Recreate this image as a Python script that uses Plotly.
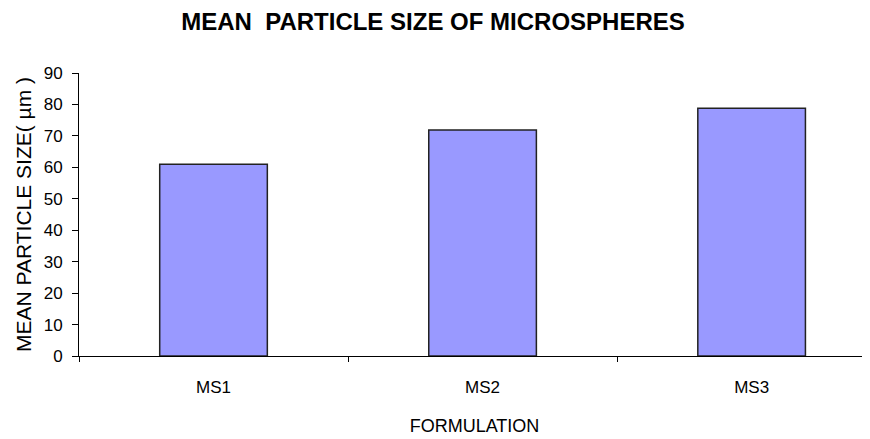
import plotly.graph_objects as go

categories = ["MS1", "MS2", "MS3"]
mean_size = [61.0, 71.9, 78.8]
y_ticks = [0, 10, 20, 30, 40, 50, 60, 70, 80, 90]

fnt = "Liberation Sans, Arial, sans-serif"

fig = go.Figure(
    go.Bar(
        x=categories,
        y=mean_size,
        marker=dict(color="#9999FF", line=dict(color="#222222", width=1.5)),
    )
)

# page body has an 8px margin, so the figure is sized/offset to compensate
fig.update_layout(
    width=862,
    height=431,
    margin=dict(l=71, r=0, t=65, b=83, autoexpand=False),
    paper_bgcolor="white",
    plot_bgcolor="white",
    bargap=0.6,
    showlegend=False,
    title=dict(
        text="<b>MEAN  PARTICLE SIZE OF MICROSPHERES</b>",
        x=0.493, xanchor="center", y=0.9675, yanchor="middle",
        font=dict(family=fnt, size=24, color="black"),
        automargin=False,
    ),
    font=dict(family=fnt, size=17, color="black"),
)

fig.update_xaxes(
    range=[-0.5, 2.44],
    automargin=False,
    showline=True, linecolor="black", linewidth=1,
    ticks="outside", tickson="boundaries", ticklen=5, tickcolor="black",
    tickfont=dict(family=fnt, size=17, color="black"),
    ticklabelstandoff=16,
    showgrid=False,
    title=dict(text="FORMULATION", font=dict(family=fnt, size=18), standoff=22),
)

fig.update_yaxes(
    range=[0, 90],
    automargin=False,
    tickvals=y_ticks,
    showline=True, linecolor="black", linewidth=1,
    ticks="outside", ticklen=6, tickcolor="black",
    tickfont=dict(family=fnt, size=17, color="black"),
    ticklabelstandoff=6,
    showgrid=False, zeroline=False,
    title=dict(text="MEAN PARTICLE SIZE( µm )", font=dict(family=fnt, size=21), standoff=6),
)

fig.write_html("out.html")
